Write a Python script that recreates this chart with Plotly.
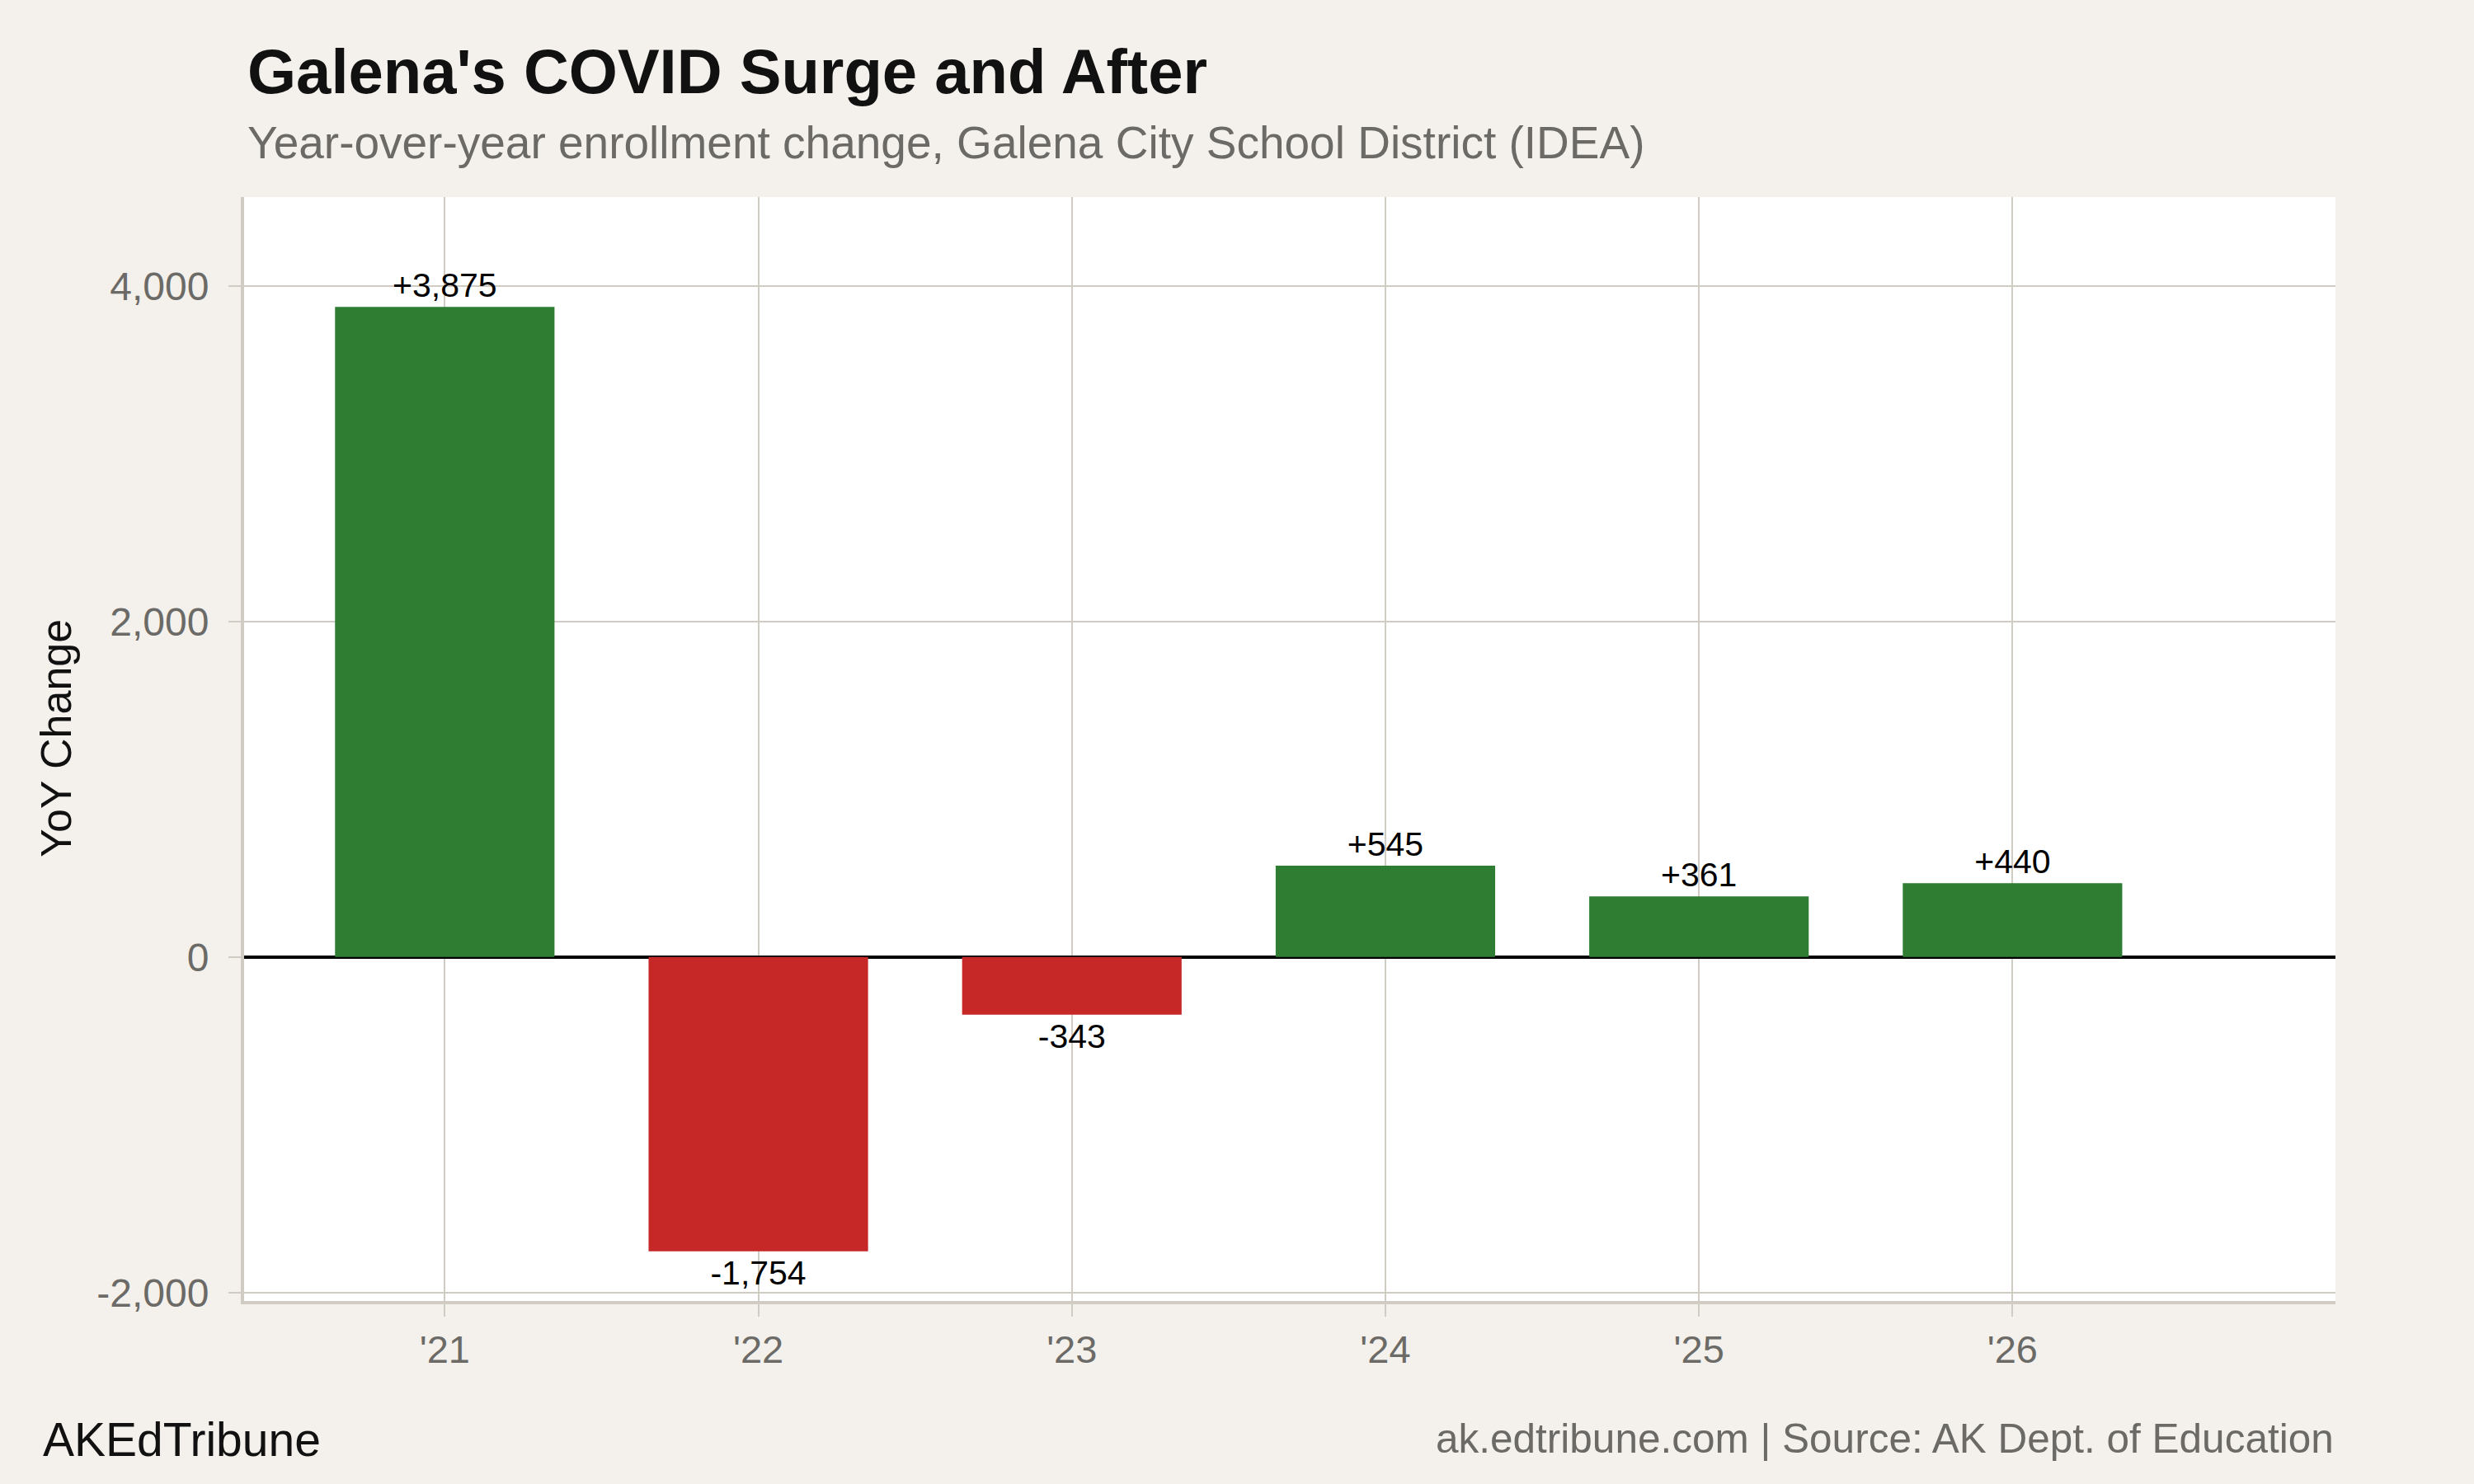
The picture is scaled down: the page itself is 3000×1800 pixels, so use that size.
import plotly.graph_objects as go

categories = ["'21", "'22", "'23", "'24", "'25", "'26"]
yoy_change = [3875, -1754, -343, 545, 361, 440]
y_ticks = [-2000, 0, 2000, 4000]
y_tick_labels = ["-2,000", "0", "2,000", "4,000"]

title_text = "Galena's COVID Surge and After"
subtitle_text = "Year-over-year enrollment change, Galena City School District (IDEA)"
y_title = "YoY Change"
footer_left = "AKEdTribune"
footer_right = "ak.edtribune.com | Source: AK Dept. of Education"

GREEN = "#2e7d32"
RED = "#c62828"
BG = "#f4f1ec"
GRID = "#d0cbc3"
GREY = "#6b6a66"
FONT = "Liberation Sans, Arial, Helvetica, sans-serif"

W, H = 3000, 1800
ML, MR, MT, MB = 296, 168, 239, 222
PW = W - ML - MR
PH = H - MT - MB


def py(pix_y):
    return (H - MB - pix_y) / PH


def px(pix_x):
    return (pix_x - ML) / PW


colors = [GREEN if v >= 0 else RED for v in yoy_change]
labels = [f"{v:+,}" for v in yoy_change]

fig = go.Figure()
fig.add_trace(go.Bar(
    x=categories, y=yoy_change, marker=dict(color=colors, line=dict(width=0)),
    width=0.7, text=labels, textposition="outside", cliponaxis=False,
    textfont=dict(family=FONT, size=41, color="#000000"),
    hoverinfo="skip",
))

fig.update_layout(
    width=W, height=H,
    margin=dict(l=ML, r=MR, t=MT, b=MB, autoexpand=False),
    paper_bgcolor=BG, plot_bgcolor="#ffffff",
    showlegend=False,
    font=dict(family=FONT, color=GREY),
    xaxis=dict(
        type="category", range=[-0.64, 6.03],
        showgrid=True, gridcolor=GRID, gridwidth=2,
        ticks="outside", ticklen=15, tickcolor=GRID, tickwidth=2,
        showline=True, linecolor=GRID, linewidth=4,
        tickfont=dict(family=FONT, size=47, color=GREY),
        ticklabelstandoff=0,
        zeroline=False, fixedrange=True,
    ),
    yaxis=dict(
        range=[-2050, 4530], tickvals=y_ticks, ticktext=y_tick_labels,
        showgrid=True, gridcolor=GRID, gridwidth=2,
        ticks="outside", ticklen=15, tickcolor=GRID, tickwidth=2,
        showline=True, linecolor=GRID, linewidth=4,
        tickfont=dict(family=FONT, size=48, color=GREY),
        ticklabelstandoff=14,
        zeroline=True, zerolinecolor="#000000", zerolinewidth=4,
        fixedrange=True,
    ),
    annotations=[
        dict(text=f"<b>{title_text}</b>", xref="paper", yref="paper",
             x=px(298), y=py(86), xanchor="left", yanchor="middle",
             showarrow=False, font=dict(family=FONT, size=76, color="#111111")),
        dict(text=subtitle_text, xref="paper", yref="paper",
             x=px(298), y=py(173), xanchor="left", yanchor="middle",
             showarrow=False, font=dict(family=FONT, size=55, color=GREY)),
        dict(text=y_title, xref="paper", yref="paper", textangle=-90,
             x=px(68), y=py(896), xanchor="center", yanchor="middle",
             showarrow=False, font=dict(family=FONT, size=52, color="#111111")),
        dict(text=footer_left, xref="paper", yref="paper",
             x=px(50), y=py(1746), xanchor="left", yanchor="middle",
             showarrow=False, font=dict(family=FONT, size=57, color="#111111")),
        dict(text=footer_right, xref="paper", yref="paper",
             x=1.0, y=py(1745), xanchor="right", yanchor="middle",
             showarrow=False, font=dict(family=FONT, size=49.5, color=GREY)),
    ],
)

fig.write_html("out.html", config={"displayModeBar": False},
               post_script="document.body.style.margin='0px';")
